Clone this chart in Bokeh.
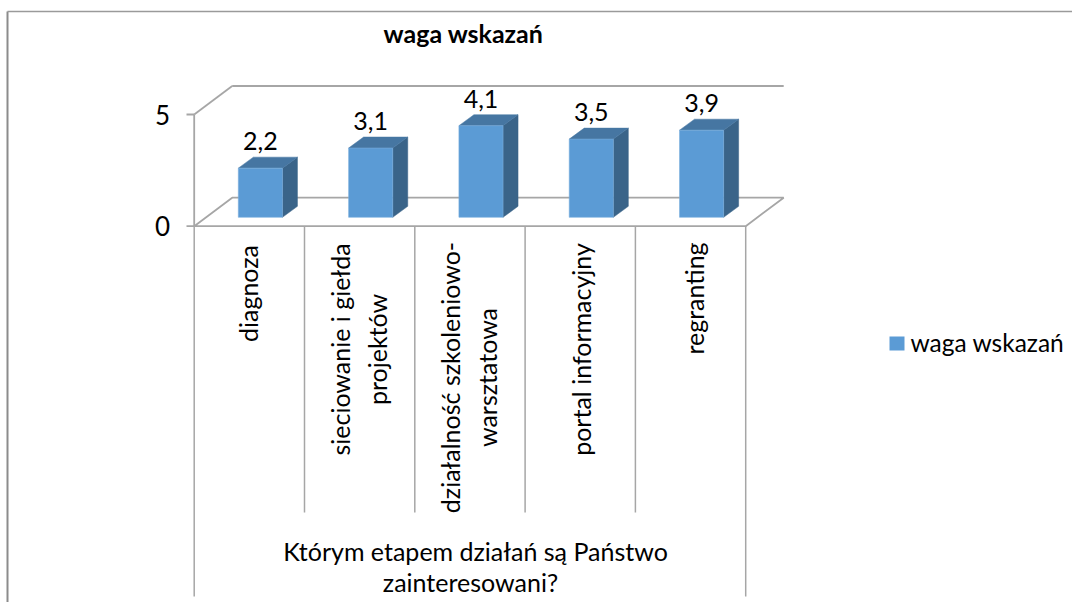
from bokeh.plotting import figure
from bokeh.embed import file_html
from bokeh.resources import INLINE
from bokeh.core.properties import value
from bokeh.models import Range1d

title = "waga wskazań"
categories = [
    ["diagnoza"],
    ["sieciowanie i giełda", "projektów"],
    ["działalność szkoleniowo-", "warsztatowa"],
    ["portal informacyjny"],
    ["regranting"],
]
values = [2.2, 3.1, 4.1, 3.5, 3.9]
value_labels = ["2,2", "3,1", "4,1", "3,5", "3,9"]
y_ticks = [0, 5]
y_tick_labels = ["0", "5"]
group_lines = ["Którym etapem działań są Państwo", "zainteresowani?"]
legend_label = "waga wskazań"

FONT = value("Lato")
W, H = 1072, 602
X0, Y0 = 193.7, 225.7      # axis origin, in picture pixels
UX, UY = 110.3, 22.34      # pixels per category / per value unit
DX, DY = 38.0, 28.5        # depth of the 3D box

p = figure(width=W, height=H, output_backend="svg", toolbar_location=None,
           x_axis_type="linear", min_border=0, outline_line_color=None)
p.x_range = Range1d(-X0 / UX, (W - X0) / UX)
p.y_range = Range1d((Y0 - H) / UY, Y0 / UY)
p.axis.visible = False
p.grid.visible = False

def px(x):
    return (x - X0) / UX

def py(y):
    return (Y0 - y) / UY

n = len(values)
top = y_ticks[-1]
ddx, ddy = DX / UX, DY / UY
LINE = "#a6a6a6"
W_LINE = 1.8

# chart-area border
p.line([px(7), px(7)], [py(11), py(H)], line_color="#8c8c8c", line_width=2)
p.line([px(7), px(W)], [py(11), py(11)], line_color="#9a9a9a", line_width=1.5)

# 3D walls and floor
p.line([0, 0], [0, top], line_color=LINE, line_width=W_LINE)
p.line([0, ddx], [top, top + ddy], line_color=LINE, line_width=W_LINE)
p.line([ddx, n + ddx], [top + ddy, top + ddy], line_color=LINE, line_width=W_LINE)
p.line([0, ddx, n + ddx, n, 0], [0, ddy, ddy, 0, 0], line_color=LINE, line_width=W_LINE)
for t in y_ticks:
    p.line([px(186), 0], [t, t], line_color=LINE, line_width=W_LINE)

# category separators
for i in range(n + 1):
    end = py(596) if i in (0, n) else py(512)
    p.line([i, i], [0, end], line_color=LINE, line_width=1.5)

# bars
BAR_L, BAR_R = 0.40, 0.80  # fraction of a category, front face
base = 8.9 / UY
sx, sy = 15.0 / UX, 11.0 / UY
for i, v in enumerate(values):
    l, r = i + BAR_L, i + BAR_R
    b, t = base, base + v
    p.patch([r, r + sx, r + sx, r], [b, b + sy, t + sy, t], fill_color="#3a6489", line_color="#3a6489", line_width=0.5)
    p.patch([l, l + sx, r + sx, r], [t, t + sy, t + sy, t], fill_color="#4676a2", line_color="#4676a2", line_width=0.5)
    p.quad(left=[l], right=[r], bottom=[b], top=[t], fill_color="#5b9bd5", line_color="#7aaedd", line_width=0.6)

# data labels
p.text([i + 0.5 + 0.1 for i in range(n)], [base + v for v in values], text=value_labels,
       text_font=FONT, text_font_size="25px", text_color="#000000",
       text_align="center", text_baseline="middle", y_offset=-27)

# y tick labels
p.text([px(162)] * 2, y_ticks, text=y_tick_labels, text_font=FONT, text_font_size="26px",
       text_color="#000000", text_align="center", text_baseline="middle")

# category labels, rotated, centred on their block
label_centres = [293, 349, 377, 349, 298]
label_nudge = [-1, -1, -1, 1, 3]
LINE_GAP = 37
for i, lines in enumerate(categories):
    m = len(lines)
    for j, s in enumerate(lines):
        off = (j - (m - 1) / 2) * LINE_GAP + label_nudge[i]
        p.text([i + 0.5], [py(label_centres[i])], text=[s], text_font=FONT, text_font_size="25px",
               text_color="#000000", text_align="center", text_baseline="middle", angle=1.5708, x_offset=off)

# group label
for s, x, y in zip(group_lines, [475, 470], [550, 581]):
    p.text([px(x)], [py(y)], text=[s], text_font=FONT, text_font_size="25px", text_color="#000000",
           text_align="center", text_baseline="middle")

# title
p.text([px(463)], [py(32)], text=[title], text_font=FONT, text_font_size="25px", text_font_style="bold",
       text_color="#000000", text_align="center", text_baseline="middle")

# legend
p.quad(left=[px(889)], right=[px(904)], bottom=[py(350)], top=[py(336)], fill_color="#5b9bd5", line_color=None)
p.text([px(910)], [py(342)], text=[legend_label], text_font=FONT, text_font_size="24.5px", text_color="#000000",
       text_align="left", text_baseline="middle")

open("out.html", "w").write(file_html(p, INLINE))
